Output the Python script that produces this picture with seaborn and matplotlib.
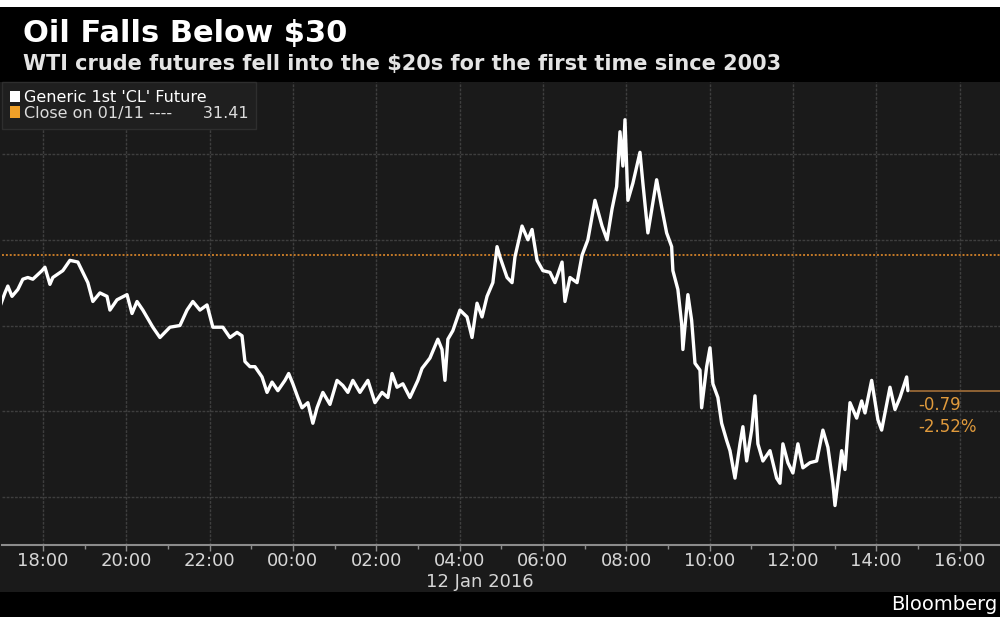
import numpy as np
import pandas as pd
import seaborn as sns
import matplotlib.pyplot as plt
from matplotlib.patches import Rectangle, Patch

# WTI front-month future, hours after 18:00 on 11 Jan 2016
hours = [-1.03, -0.91, -0.84, -0.74, -0.60, -0.48, -0.36, -0.24, -0.02, 0.05,
         0.17, 0.24, 0.48, 0.65, 0.84, 0.96, 1.08, 1.20, 1.37, 1.54,
         1.61, 1.78, 2.02, 2.14, 2.26, 2.40, 2.64, 2.81, 3.05, 3.29,
         3.46, 3.60, 3.77, 3.94, 4.08, 4.32, 4.49, 4.66, 4.78, 4.85,
         4.97, 5.09, 5.26, 5.38, 5.50, 5.64, 5.81, 5.90, 6.00, 6.12,
         6.22, 6.36, 6.48, 6.58, 6.72, 6.89, 7.06, 7.20, 7.32, 7.44,
         7.61, 7.80, 7.97, 8.14, 8.28, 8.38, 8.50, 8.64, 8.81, 9.00,
         9.10, 9.29, 9.48, 9.58, 9.65, 9.72, 9.84, 10.01, 10.18, 10.30,
         10.42, 10.54, 10.66, 10.80, 10.90, 10.97, 11.14, 11.26, 11.33, 11.50,
         11.64, 11.74, 11.86, 12.00, 12.17, 12.29, 12.46, 12.53, 12.65, 12.82,
         12.94, 13.08, 13.25, 13.42, 13.54, 13.66, 13.77, 13.85, 13.92, 13.97,
         14.04, 14.16, 14.33, 14.40, 14.52, 14.73, 14.85, 14.97, 15.09, 15.12,
         15.24, 15.33, 15.36, 15.48, 15.57, 15.65, 15.77, 15.81, 15.93, 16.01,
         16.08, 16.20, 16.29, 16.41, 16.49, 16.61, 16.73, 16.80, 16.89, 17.01,
         17.09, 17.16, 17.28, 17.45, 17.61, 17.69, 17.76, 17.88, 18.00, 18.12,
         18.24, 18.41, 18.57, 18.72, 18.84, 18.96, 19.01, 19.17, 19.25, 19.37,
         19.53, 19.65, 19.73, 19.89, 20.04, 20.13, 20.33, 20.45, 20.57, 20.73,
         20.76]
price = [31.11, 31.19, 31.23, 31.17, 31.21, 31.27, 31.28, 31.27, 31.32, 31.34,
         31.24, 31.28, 31.32, 31.38, 31.37, 31.31, 31.25, 31.14, 31.19, 31.17,
         31.09, 31.15, 31.18, 31.07, 31.14, 31.09, 30.99, 30.93, 30.99, 31.00,
         31.09, 31.14, 31.09, 31.12, 30.99, 30.99, 30.93, 30.96, 30.94, 30.79,
         30.76, 30.76, 30.70, 30.61, 30.67, 30.62, 30.68, 30.72, 30.66, 30.58,
         30.52, 30.55, 30.43, 30.52, 30.61, 30.54, 30.68, 30.65, 30.61, 30.68,
         30.61, 30.68, 30.55, 30.61, 30.58, 30.72, 30.64, 30.66, 30.58, 30.68,
         30.75, 30.81, 30.92, 30.86, 30.68, 30.92, 30.97, 31.09, 31.05, 30.93,
         31.13, 31.05, 31.17, 31.25, 31.46, 31.40, 31.28, 31.25, 31.40, 31.58,
         31.50, 31.56, 31.38, 31.32, 31.31, 31.25, 31.37, 31.14, 31.28, 31.25,
         31.41, 31.50, 31.73, 31.58, 31.50, 31.68, 31.81, 32.13, 31.93, 32.20,
         31.73, 31.83, 32.01, 31.83, 31.54, 31.85, 31.69, 31.54, 31.46, 31.32,
         31.21, 31.01, 30.86, 31.18, 31.03, 30.78, 30.74, 30.52, 30.76, 30.87,
         30.66, 30.58, 30.43, 30.33, 30.27, 30.11, 30.31, 30.41, 30.21, 30.39,
         30.59, 30.31, 30.21, 30.27, 30.11, 30.08, 30.31, 30.20, 30.14, 30.31,
         30.17, 30.20, 30.21, 30.39, 30.29, 30.08, 29.95, 30.27, 30.16, 30.55,
         30.46, 30.56, 30.49, 30.68, 30.45, 30.39, 30.64, 30.51, 30.58, 30.70,
         30.62]

prev_close = 31.41
last_change = -0.79
last_pct = -2.52

tick_hours = [0, 2, 4, 6, 8, 10, 12, 14, 16, 18, 20, 22]
tick_labels = ["18:00", "20:00", "22:00", "00:00", "02:00", "04:00",
               "06:00", "08:00", "10:00", "12:00", "14:00", "16:00"]
grid_prices = [30.0, 30.5, 31.0, 31.5, 32.0]

df = pd.DataFrame({"hours": hours, "price": price})

sns.set_style("dark", rc={"axes.facecolor": "#1a1a1a",
                          "grid.color": "#3e3e3e",
                          "axes.edgecolor": "#8c8c8c"})
plt.rcParams["font.family"] = ["DejaVu Sans"]

W, H = 1000, 625
fig = plt.figure(figsize=(10, 6.25), dpi=100, facecolor="white")


def fy(px):
    return 1 - px / H


# background bands: black title/footer, dark grey body
fig.add_artist(Rectangle((0, fy(617)), 1, (617 - 7) / H, transform=fig.transFigure,
                         facecolor="black", edgecolor="none", zorder=0))
fig.add_artist(Rectangle((0, fy(592)), 1, (592 - 82) / H, transform=fig.transFigure,
                         facecolor="#1a1a1a", edgecolor="none", zorder=0))

ax = fig.add_axes([2 / W, fy(545), 998 / W, (545 - 82) / H])

sns.lineplot(data=df, x="hours", y="price", color="white", lw=2.4, ax=ax, zorder=5)

ax.axhline(prev_close, color="#c57a28", lw=1.4, ls=(0, (1, 1)), zorder=3)
ax.hlines(price[-1], hours[-1] + 0.05, 24, color="#8f6234", lw=1.4, zorder=3)

ax.annotate(f"{last_change:.2f}", xy=(hours[-1], price[-1]), xytext=(10, -14),
            textcoords="offset pixels", color="#e09a3c", fontsize=12, va="center")
ax.annotate(f"{last_pct:.2f}%", xy=(hours[-1], price[-1]), xytext=(10, -36),
            textcoords="offset pixels", color="#e09a3c", fontsize=12, va="center")

ax.set_xlim(-0.98, 22.97)
ax.set_ylim(29.72, 32.42)
ax.set_xticks(tick_hours)
ax.set_xticklabels(tick_labels)
ax.set_xticks(np.arange(-0.0, 23, 1), minor=True)
ax.set_yticks(grid_prices)
ax.tick_params(axis="y", length=0, labelleft=False)
ax.tick_params(axis="x", which="major", length=4, width=1, color="#8c8c8c",
               labelcolor="#d6d6d6", labelsize=13, pad=1, bottom=True)
ax.tick_params(axis="x", which="minor", length=3, width=1, color="#8c8c8c", bottom=True)
ax.grid(True, which="major", color="#3e3e3e", lw=1, ls=(0, (2, 1)))
ax.set_xlabel("")
ax.set_ylabel("")
for side in ["top", "right", "left"]:
    ax.spines[side].set_visible(False)
ax.spines["bottom"].set_color("#8c8c8c")
ax.spines["bottom"].set_linewidth(1.5)

handles = [Patch(facecolor="white", edgecolor="none"),
           Patch(facecolor="#f0a028", edgecolor="none")]
labels = ["Generic 1st 'CL' Future", f"Close on 01/11 ----      {prev_close:.2f}"]
leg = ax.legend(handles, labels, loc="upper left", bbox_to_anchor=(0, 1),
                frameon=True, fancybox=False, facecolor="#1f1f1f", edgecolor="#2e2e2e",
                framealpha=1, fontsize=11.5, handlelength=0.65, handleheight=0.75,
                handletextpad=0.2, borderaxespad=0, borderpad=0.5, labelspacing=0.05)
leg.get_texts()[0].set_color("white")
leg.get_texts()[1].set_color("#dcdcdc")
leg.set_zorder(10)

fig.text(23 / W, fy(42), "Oil Falls Below $30", color="white", fontsize=22,
         fontweight="bold", va="baseline")
fig.text(23 / W, fy(70), "WTI crude futures fell into the $20s for the first time since 2003",
         color="#e4e4e4", fontsize=15, fontweight="bold", va="baseline")
fig.text(480 / W, fy(582), "12 Jan 2016", color="#d6d6d6", fontsize=13,
         ha="center", va="center")
fig.text(997 / W, fy(604), "Bloomberg", color="white", fontsize=14,
         ha="right", va="center")

fig.savefig("out.png", dpi=100, facecolor=fig.get_facecolor())
